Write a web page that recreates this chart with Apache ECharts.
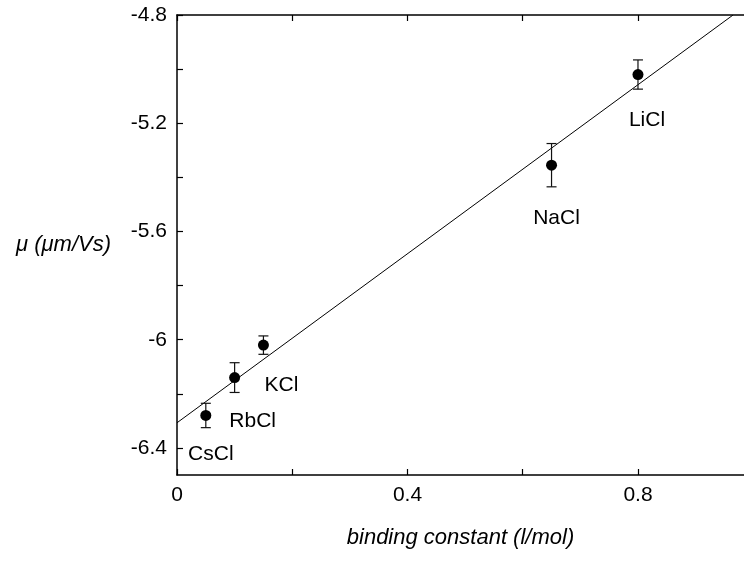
<!DOCTYPE html>
<html>
<head>
<meta charset="utf-8">
<script src="https://cdn.jsdelivr.net/npm/echarts@6/dist/echarts.min.js"></script>
<style>
html,body{margin:0;padding:0;background:#fff;}
#chart{width:744px;height:561px;}
</style>
</head>
<body>
<div id="chart"></div>
<script>
// ---- data ----
const salts = ['CsCl', 'RbCl', 'KCl', 'NaCl', 'LiCl'];
const bindingConstant = [0.05, 0.10, 0.15, 0.65, 0.80];
const mobility = [-6.28, -6.14, -6.02, -5.355, -5.02];
const mobilityError = [0.045, 0.055, 0.034, 0.08, 0.054];
const fitX = [0, 0.965];
const fitY = [-6.307, -4.8];
const xTickValues = [0, 0.2, 0.4, 0.6, 0.8];
const xLabelValues = [0, 0.4, 0.8];
const yTickValues = [-6.4, -6.2, -6.0, -5.8, -5.6, -5.4, -5.2, -5.0, -4.8];
const yLabelValues = [-6.4, -6.0, -5.6, -5.2, -4.8];

// ---- presentation ----
const FONT = "'Liberation Sans', Arial, Helvetica, sans-serif";
const labelOffsets = [[5, 39], [18, 44], [18, 40], [5, 53], [9, 46]];

const chart = echarts.init(document.getElementById('chart'), null, {renderer: 'canvas'});

const scatterData = salts.map((s, i) => ({
  name: s,
  value: [bindingConstant[i], mobility[i]],
  label: {show: true, formatter: s, position: 'inside', offset: labelOffsets[i],
          color: '#000', fontFamily: FONT, fontSize: 21, opacity: 1}
}));
const errData = salts.map((s, i) => [bindingConstant[i], mobility[i] - mobilityError[i], mobility[i] + mobilityError[i]]);
const fitData = fitX.map((x, i) => [x, fitY[i]]);

const axisLineStyle = {color: '#000', width: 1.5};

chart.setOption({
  animation: false,
  backgroundColor: '#fff',
  grid: {left: 177, top: 15, right: 0, bottom: 86, containLabel: false},
  xAxis: [{
    type: 'value', position: 'bottom', min: 0, max: 0.984,
    name: 'binding constant (l/mol)', nameLocation: 'middle', nameGap: 52,
    nameTextStyle: {fontFamily: FONT, fontSize: 22, fontStyle: 'italic', color: '#000'},
    axisLine: {show: true, onZero: false, lineStyle: axisLineStyle},
    axisTick: {show: true, inside: true, length: 6, customValues: xTickValues, lineStyle: {color: '#000', width: 1.2}},
    axisLabel: {show: true, customValues: xLabelValues, margin: 10, fontFamily: FONT, fontSize: 21, color: '#000'},
    splitLine: {show: false}
  }, {
    type: 'value', position: 'top', min: 0, max: 0.984,
    axisLine: {show: true, onZero: false, lineStyle: axisLineStyle},
    axisTick: {show: true, inside: true, length: 6, customValues: xTickValues, lineStyle: {color: '#000', width: 1.2}},
    axisLabel: {show: false},
    splitLine: {show: false}
  }],
  yAxis: [{
    type: 'value', min: -6.5, max: -4.8,
    name: 'μ (μm/Vs)', nameLocation: 'middle', nameRotate: 0, nameGap: 66,
    nameTextStyle: {fontFamily: FONT, fontSize: 22, fontStyle: 'italic', color: '#000', align: 'right', verticalAlign: 'middle', padding: [0, 0, 10, 0]},
    axisLine: {show: true, onZero: false, lineStyle: axisLineStyle},
    axisTick: {show: true, inside: true, length: 6, customValues: yTickValues, lineStyle: {color: '#000', width: 1.2}},
    axisLabel: {show: true, customValues: yLabelValues, margin: 10, fontFamily: FONT, fontSize: 21, color: '#000'},
    splitLine: {show: false}
  }],
  series: [{
    type: 'line', data: fitData, showSymbol: false, symbol: 'none',
    lineStyle: {color: '#000', width: 1}, silent: true, z: 1
  }, {
    type: 'custom', data: errData, z: 2,
    renderItem: function (params, api) {
      const x = api.value(0);
      const lo = api.coord([x, api.value(1)]);
      const hi = api.coord([x, api.value(2)]);
      const w = 5;
      const style = {stroke: '#111', lineWidth: 1.2};
      return {type: 'group', children: [
        {type: 'line', shape: {x1: lo[0], y1: lo[1], x2: hi[0], y2: hi[1]}, style: style},
        {type: 'line', shape: {x1: lo[0] - w, y1: lo[1], x2: lo[0] + w, y2: lo[1]}, style: style},
        {type: 'line', shape: {x1: hi[0] - w, y1: hi[1], x2: hi[0] + w, y2: hi[1]}, style: style}
      ]};
    }
  }, {
    type: 'scatter', data: scatterData, symbol: 'circle', symbolSize: 11, z: 3,
    itemStyle: {color: '#000', opacity: 1},
    label: {fontFamily: FONT, fontSize: 21, color: '#000'}
  }]
});
</script>
</body>
</html>
